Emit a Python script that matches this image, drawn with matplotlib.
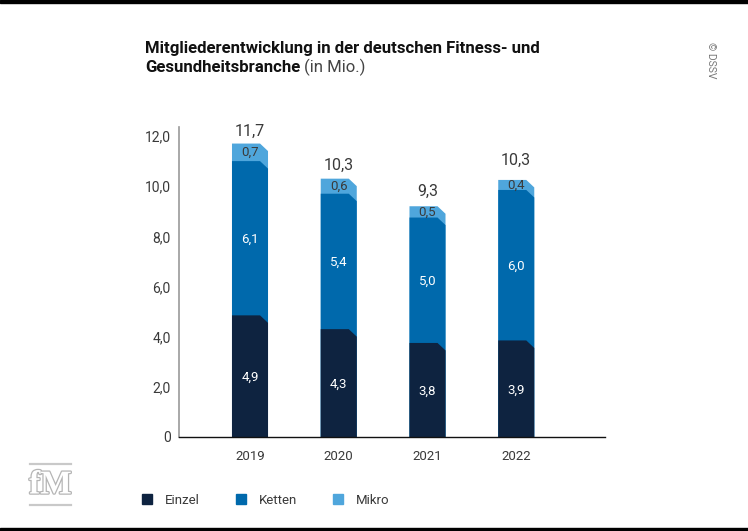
import matplotlib
matplotlib.use("Agg")
import matplotlib.pyplot as plt
import matplotlib.patheffects as pe
from matplotlib.lines import Line2D
from matplotlib.patches import Polygon

W, H = 748, 531

years = ["2019", "2020", "2021", "2022"]
einzel = [4.85, 4.3, 3.75, 3.85]
ketten = [6.15, 5.4, 5.0, 6.0]
mikro = [0.7, 0.6, 0.45, 0.4]
einzel_labels = ["4,9", "4,3", "3,8", "3,9"]
ketten_labels = ["6,1", "5,4", "5,0", "6,0"]
mikro_labels = ["0,7", "0,6", "0,5", "0,4"]
total_labels = ["11,7", "10,3", "9,3", "10,3"]
y_ticks = [0, 2, 4, 6, 8, 10, 12]
y_tick_labels = ["0", "2,0", "4,0", "6,0", "8,0", "10,0", "12,0"]

DARK = "#0e2340"
MID = "#0069ac"
LIGHT = "#4fa6dc"
TEXT = "#3a3a3a"

plt.rcParams["font.family"] = ["Roboto", "DejaVu Sans"]


def chamfered_bar(ax, x, top, color, width=0.406, dx=0.09, dy=0.3):
    # bar from zero with the top right corner cut off
    left, right = x - width / 2, x + width / 2
    pts = [(left, 0), (left, top), (right - dx, top), (right, top - dy), (right, 0)]
    ax.add_patch(Polygon(pts, closed=True, facecolor=color, edgecolor="none"))


fig = plt.figure(figsize=(W / 100, H / 100), dpi=100)
ax = fig.add_axes([179 / W, 1 - 437 / H, (605 - 179) / W, (437 - 127) / H])

# the 2022 total sits higher above its bar than the others
total_gap = [0.2, 0.22, 0.3, 0.5]

for i in range(len(years)):
    # largest first, the shorter ones go on top
    top1 = einzel[i]
    top2 = top1 + ketten[i]
    top3 = top2 + mikro[i]
    chamfered_bar(ax, i, top3, LIGHT)
    chamfered_bar(ax, i, top2, MID)
    chamfered_bar(ax, i, top1, DARK)
    ax.text(i, top1 / 2 - 0.05, einzel_labels[i], color="white", ha="center", va="center", fontsize=9.5)
    ax.text(i, top1 + ketten[i] / 2 - 0.03, ketten_labels[i], color="white", ha="center", va="center", fontsize=9.5)
    ax.text(i, top2 + mikro[i] / 2, mikro_labels[i], color=TEXT, ha="center", va="center", fontsize=9.5)
    ax.text(i, top3 + total_gap[i], total_labels[i], color=TEXT, ha="center", va="bottom", fontsize=11.5)

ax.set_xlim(-0.80, 4.0)
ax.set_ylim(0, 12.36)
ax.set_xticks(range(len(years)))
ax.set_xticklabels(years, fontsize=9.5, color=TEXT)
ax.set_yticks(y_ticks)
ax.set_yticklabels(y_tick_labels, fontsize=10, color=TEXT)
ax.tick_params(axis="both", length=0)
ax.tick_params(axis="x", pad=9)
ax.tick_params(axis="y", pad=6)
ax.spines["top"].set_visible(False)
ax.spines["right"].set_visible(False)
ax.spines["left"].set_color("#999999")
ax.spines["left"].set_linewidth(1.2)
ax.spines["bottom"].set_color("#111111")
ax.spines["bottom"].set_linewidth(1.0)

# title, bold part plus light unit
fig.text(145 / W, 1 - 48 / H, "Mitgliederentwicklung in der deutschen Fitness- und",
         fontsize=12.05, fontweight="bold", color="#111111", va="center")
t = fig.text(145 / W, 1 - 67 / H, "Gesundheitsbranche", fontsize=12.05, fontweight="bold",
             color="#111111", va="center")
fig.canvas.draw()
bb = t.get_window_extent()
fig.text((bb.x1 + 4) / W, 1 - 67 / H, "(in Mio.)", fontsize=12.05, color="#444444", va="center")

fig.text(711 / W, 1 - 60 / H, "© DSSV", rotation=270, fontsize=7.5, color="#777777",
         ha="center", va="center")

handles = [Line2D([], [], linestyle="none", marker="s", markersize=7.5, color=c) for c in (DARK, MID, LIGHT)]
leg = fig.legend(handles, ["Einzel", "Ketten", "Mikro"], loc="center left",
                 bbox_to_anchor=(122 / W, 1 - 500 / H), ncols=3, frameon=False, fontsize=9.5,
                 handletextpad=0.35, columnspacing=2.1, labelcolor=TEXT)

# black bands top and bottom
fig.add_artist(plt.Rectangle((0, 1 - 3 / H), 1, 3 / H, transform=fig.transFigure, color="black"))
fig.add_artist(plt.Rectangle((0, 0), 1, 3 / H, transform=fig.transFigure, color="black"))

# fM logo
for y in (464, 505):
    fig.add_artist(Line2D([30 / W, 71 / W], [1 - y / H, 1 - y / H], color="#c9c9c9", lw=1.6))
logo = fig.text(50.5 / W, 1 - 485 / H, "fM", fontsize=24, family="Liberation Serif", fontweight="bold",
                color="white", ha="center", va="center")
logo.set_path_effects([pe.withStroke(linewidth=1.8, foreground="#b5b5b5")])

fig.savefig("out.png", dpi=100)
